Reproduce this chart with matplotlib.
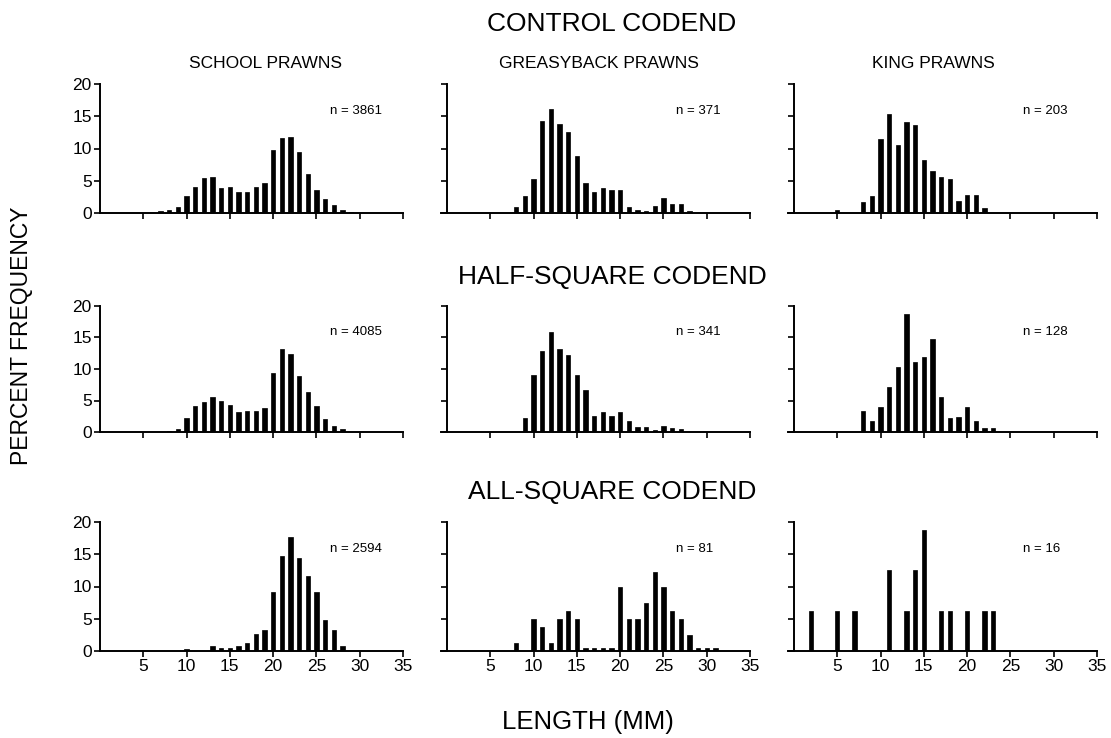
import numpy as np
import matplotlib.pyplot as plt

plt.rcParams['font.family'] = ['Liberation Sans', 'DejaVu Sans']

# length classes (mm) and percent frequency for each species / codend
school_control_len = [7, 8, 9, 10, 11, 12, 13, 14, 15, 16, 17, 18, 19, 20, 21, 22, 23, 24, 25, 26, 27, 28, 29]
school_control_pct = [0.25, 0.5, 1.0, 2.6, 4.1, 5.4, 5.6, 3.8, 4.1, 3.2, 3.2, 4.0, 4.6, 9.7, 11.7, 11.8, 9.4, 6.0, 3.5, 2.1, 1.2, 0.4, 0.1]

greasy_control_len = [8, 9, 10, 11, 12, 13, 14, 15, 16, 17, 18, 19, 20, 21, 22, 23, 24, 25, 26, 27, 28]
greasy_control_pct = [1.0, 2.6, 5.3, 14.2, 16.2, 13.8, 12.6, 8.8, 4.6, 3.2, 3.9, 3.5, 3.5, 1.0, 0.5, 0.3, 1.1, 2.4, 1.4, 1.4, 0.3]

king_control_len = [5, 8, 9, 10, 11, 12, 13, 14, 15, 16, 17, 18, 19, 20, 21, 22]
king_control_pct = [0.5, 1.7, 2.6, 11.4, 15.4, 10.6, 14.1, 13.6, 8.2, 6.5, 5.6, 5.2, 1.9, 2.8, 2.8, 0.7]

school_half_len = [8, 9, 10, 11, 12, 13, 14, 15, 16, 17, 18, 19, 20, 21, 22, 23, 24, 25, 26, 27, 28]
school_half_pct = [0.2, 0.5, 2.2, 4.2, 4.7, 5.5, 4.9, 4.3, 3.2, 3.4, 3.4, 3.8, 9.4, 13.1, 12.4, 8.9, 6.4, 4.2, 2.1, 0.9, 0.4]

greasy_half_len = [9, 10, 11, 12, 13, 14, 15, 16, 17, 18, 19, 20, 21, 22, 23, 24, 25, 26, 27]
greasy_half_pct = [2.2, 9.1, 12.9, 15.8, 13.2, 12.3, 9.1, 6.7, 2.6, 3.2, 2.5, 3.2, 1.7, 0.8, 0.8, 0.3, 0.9, 0.6, 0.5]

king_half_len = [8, 9, 10, 11, 12, 13, 14, 15, 16, 17, 18, 19, 20, 21, 22, 23]
king_half_pct = [3.3, 1.7, 3.9, 7.1, 10.3, 18.8, 11.1, 11.9, 14.8, 5.5, 2.2, 2.4, 3.9, 1.7, 0.7, 0.7]

school_all_len = [10, 13, 14, 15, 16, 17, 18, 19, 20, 21, 22, 23, 24, 25, 26, 27, 28]
school_all_pct = [0.3, 0.7, 0.5, 0.5, 0.8, 1.3, 2.6, 3.3, 9.1, 14.8, 17.7, 14.4, 11.6, 9.1, 4.8, 3.2, 0.7]

greasy_all_len = [8, 10, 11, 12, 13, 14, 15, 16, 17, 18, 19, 20, 21, 22, 23, 24, 25, 26, 27, 28, 29, 30, 31]
greasy_all_pct = [1.2, 4.9, 3.7, 1.2, 4.9, 6.2, 4.9, 0.4, 0.4, 0.4, 0.4, 9.9, 4.9, 4.9, 7.4, 12.3, 9.9, 6.2, 4.9, 2.5, 0.4, 0.4, 0.4]

king_all_len = [2, 5, 7, 11, 13, 14, 15, 17, 18, 20, 22, 23]
king_all_pct = [6.25, 6.25, 6.25, 12.5, 6.25, 12.5, 18.75, 6.25, 6.25, 6.25, 6.25, 6.25]

species = ['SCHOOL PRAWNS', 'GREASYBACK PRAWNS', 'KING PRAWNS']
codends = ['CONTROL CODEND', 'HALF-SQUARE CODEND', 'ALL-SQUARE CODEND']
sample_n = [[3861, 371, 203], [4085, 341, 128], [2594, 81, 16]]

panels = [
    [(school_control_len, school_control_pct), (greasy_control_len, greasy_control_pct), (king_control_len, king_control_pct)],
    [(school_half_len, school_half_pct), (greasy_half_len, greasy_half_pct), (king_half_len, king_half_pct)],
    [(school_all_len, school_all_pct), (greasy_all_len, greasy_all_pct), (king_all_len, king_all_pct)],
]

fig = plt.figure(figsize=(11.11, 7.38), dpi=100)

W, H = 1111, 738
col_left = [100, 447, 794]       # pixel x of length 0
px_per_mm = 303 / 35
row_span = [(84, 213), (306, 432), (522, 651)]   # pixel y of 20% and 0%
row_title_y = [24, 277, 492]
title_x = [0.545, 0.51, 0.47]

for r in range(3):
    y20, y0 = row_span[r]
    for c in range(3):
        # middle and right columns: baseline runs a little past the y axis
        x_start = 0 if c == 0 else -0.7
        left = col_left[c] + x_start * px_per_mm
        ax = fig.add_axes([left / W, 1 - y0 / H, (35 - x_start) * px_per_mm / W, (y0 - y20) / H])
        lens, pct = panels[r][c]
        ax.bar(lens, pct, width=0.5, color='black', edgecolor='black', linewidth=0.5)
        ax.set_xlim(x_start, 35)
        ax.set_ylim(0, 20)
        ax.spines['left'].set_position(('data', 0))
        ax.set_xticks(np.arange(5, 36, 5))
        ax.set_yticks(np.arange(0, 21, 5))
        for s in ['top', 'right']:
            ax.spines[s].set_visible(False)
        for s in ['left', 'bottom']:
            ax.spines[s].set_linewidth(1.4)
        ax.tick_params(direction='out', length=4, width=1.2, labelsize=12.5, pad=2)
        if r < 2:
            ax.set_xticklabels([])
        if c > 0:
            ax.set_yticklabels([])
        ax.text(0.76, 0.79, 'n = %d' % sample_n[r][c], transform=ax.transAxes,
                fontsize=9.5, ha='left', va='center')
        if r == 0:
            ax.text(title_x[c], 1.16, species[c], transform=ax.transAxes,
                    fontsize=12.5, ha='center', va='center')
    fig.text(612 / W, 1 - row_title_y[r] / H, codends[r], fontsize=19,
             ha='center', va='center')

fig.text(22 / W, 1 - 336 / H, 'PERCENT FREQUENCY', fontsize=16.5, rotation=90,
         ha='center', va='center')
fig.text(588 / W, 1 - 722 / H, 'LENGTH (MM)', fontsize=18.5, ha='center', va='center')

fig.savefig('out.png', dpi=100, facecolor='white')
